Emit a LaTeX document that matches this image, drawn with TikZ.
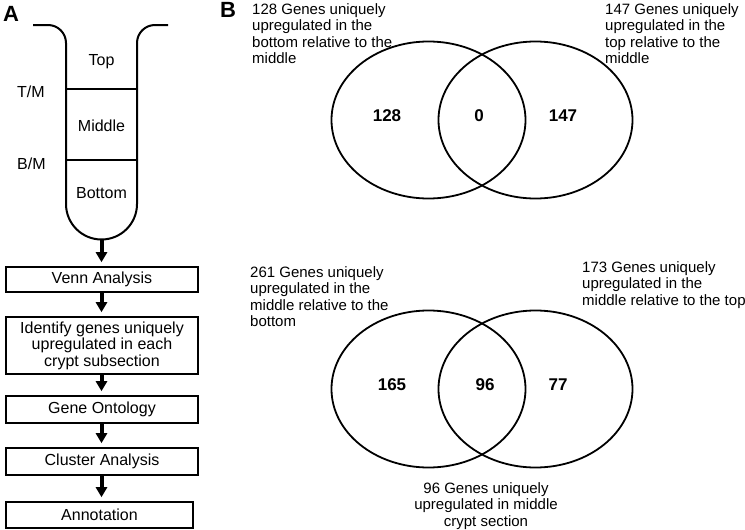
\documentclass[tikz,border=0pt]{standalone}
\usepackage{fontspec}
\setmainfont{Liberation Sans}
\usetikzlibrary{shapes.geometric,arrows.meta}
\begin{document}
\begin{tikzpicture}[x=1pt,y=-1pt,
  tube/.style={line width=2pt},
  flowbox/.style={draw,line width=1.6pt,inner sep=0pt,minimum width=192pt,align=center,font=\fontsize{16}{16.5}\selectfont},
  arr/.style={line width=4pt,-{Triangle[width=11pt,length=10pt]}},
  venn/.style={draw,ellipse,line width=1.8pt,inner sep=0pt,minimum width=194pt,minimum height=157pt},
  vtext/.style={inner sep=0pt,align=left,font=\fontsize{15}{16.5}\selectfont},
  num/.style={inner sep=0pt,font=\fontsize{17}{18}\selectfont\bfseries},
  tlab/.style={inner sep=0pt,font=\fontsize{16}{18}\selectfont},
  panel/.style={inner sep=0pt,font=\fontsize{22}{24}\selectfont\bfseries}]
\useasboundingbox (0,0) rectangle (745,530);
% panel labels
\node[panel] (pA) at (11,14) {A};
\node[panel] (pB) at (228,10) {B};
% crypt tube
\draw[tube] (33,25) -- (48,25) arc[start angle=90,end angle=0,radius=18pt]
  -- (66,204) arc[start angle=180,end angle=360,radius=35.5pt]
  -- (137,43) arc[start angle=180,end angle=90,radius=18pt] -- (168,25);
\draw[tube] (66,89) -- (137,89);
\draw[tube] (66,160) -- (137,160);
\coordinate (tubebot) at (101.5,240);
\node[tlab,anchor=base] (ttop) at (101.5,65) {Top};
\node[tlab,anchor=base] (tmid) at (101.5,131) {Middle};
\node[tlab,anchor=base] (tbot) at (101.5,198) {Bottom};
\node[tlab,anchor=base west] (tm) at (17,97) {T/M};
\node[tlab,anchor=base west] (bm) at (17,169) {B/M};
% flow boxes
\node[flowbox,minimum height=25pt] (venn) at (102,279.5) {Venn Analysis};
\node[flowbox,minimum height=57pt] (ident) at (102,345.5) {Identify genes uniquely\\upregulated in each\\crypt subsection};
\node[flowbox,minimum height=27pt] (go) at (102,409.5) {Gene Ontology};
\node[flowbox,minimum height=27pt] (clus) at (102,461.5) {Cluster Analysis};
\node[flowbox,minimum height=26pt,minimum width=187pt] (annot) at (99.5,515) {Annotation};
\draw[arr,shorten >=4pt] (tubebot) -- (tubebot |- venn.north);
\draw[arr,shorten >=4pt] (venn.south -| tubebot) -- (tubebot |- ident.north);
\draw[arr,shorten >=4pt] (ident.south -| tubebot) -- (tubebot |- go.north);
\draw[arr,shorten >=4pt] (go.south -| tubebot) -- (tubebot |- clus.north);
\draw[arr,shorten >=4pt] (clus.south -| tubebot) -- (tubebot |- annot.north);
% top venn
\node[venn] (e1) at (428.5,120) {};
\node[venn] (e2) at (535.5,120) {};
\node[num] (n128) at (387,116) {128};
\node[num] (n0) at (479,116) {0};
\node[num] (n147) at (563,116) {147};
\node[vtext,anchor=north west] (t128) at (252,3) {128 Genes uniquely\\upregulated in the\\bottom relative to the\\middle};
\node[vtext,anchor=north west] (t147) at (605,3) {147 Genes uniquely\\upregulated in the\\top relative to the\\middle};
% bottom venn
\node[venn] (e3) at (428.5,389) {};
\node[venn] (e4) at (535.5,389) {};
\node[num] (n165) at (392,385) {165};
\node[num] (n96) at (485,385) {96};
\node[num] (n77) at (558,385) {77};
\node[vtext,anchor=north west] (t261) at (250,266) {261 Genes uniquely\\upregulated in the\\middle relative to the\\bottom};
\node[vtext,anchor=north west] (t173) at (582,261) {173 Genes uniquely\\upregulated in the\\middle relative to the top};
\node[vtext,align=center,anchor=north] (t96) at (486,482) {96 Genes uniquely\\upregulated in middle\\crypt section};
\end{tikzpicture}
\end{document}
